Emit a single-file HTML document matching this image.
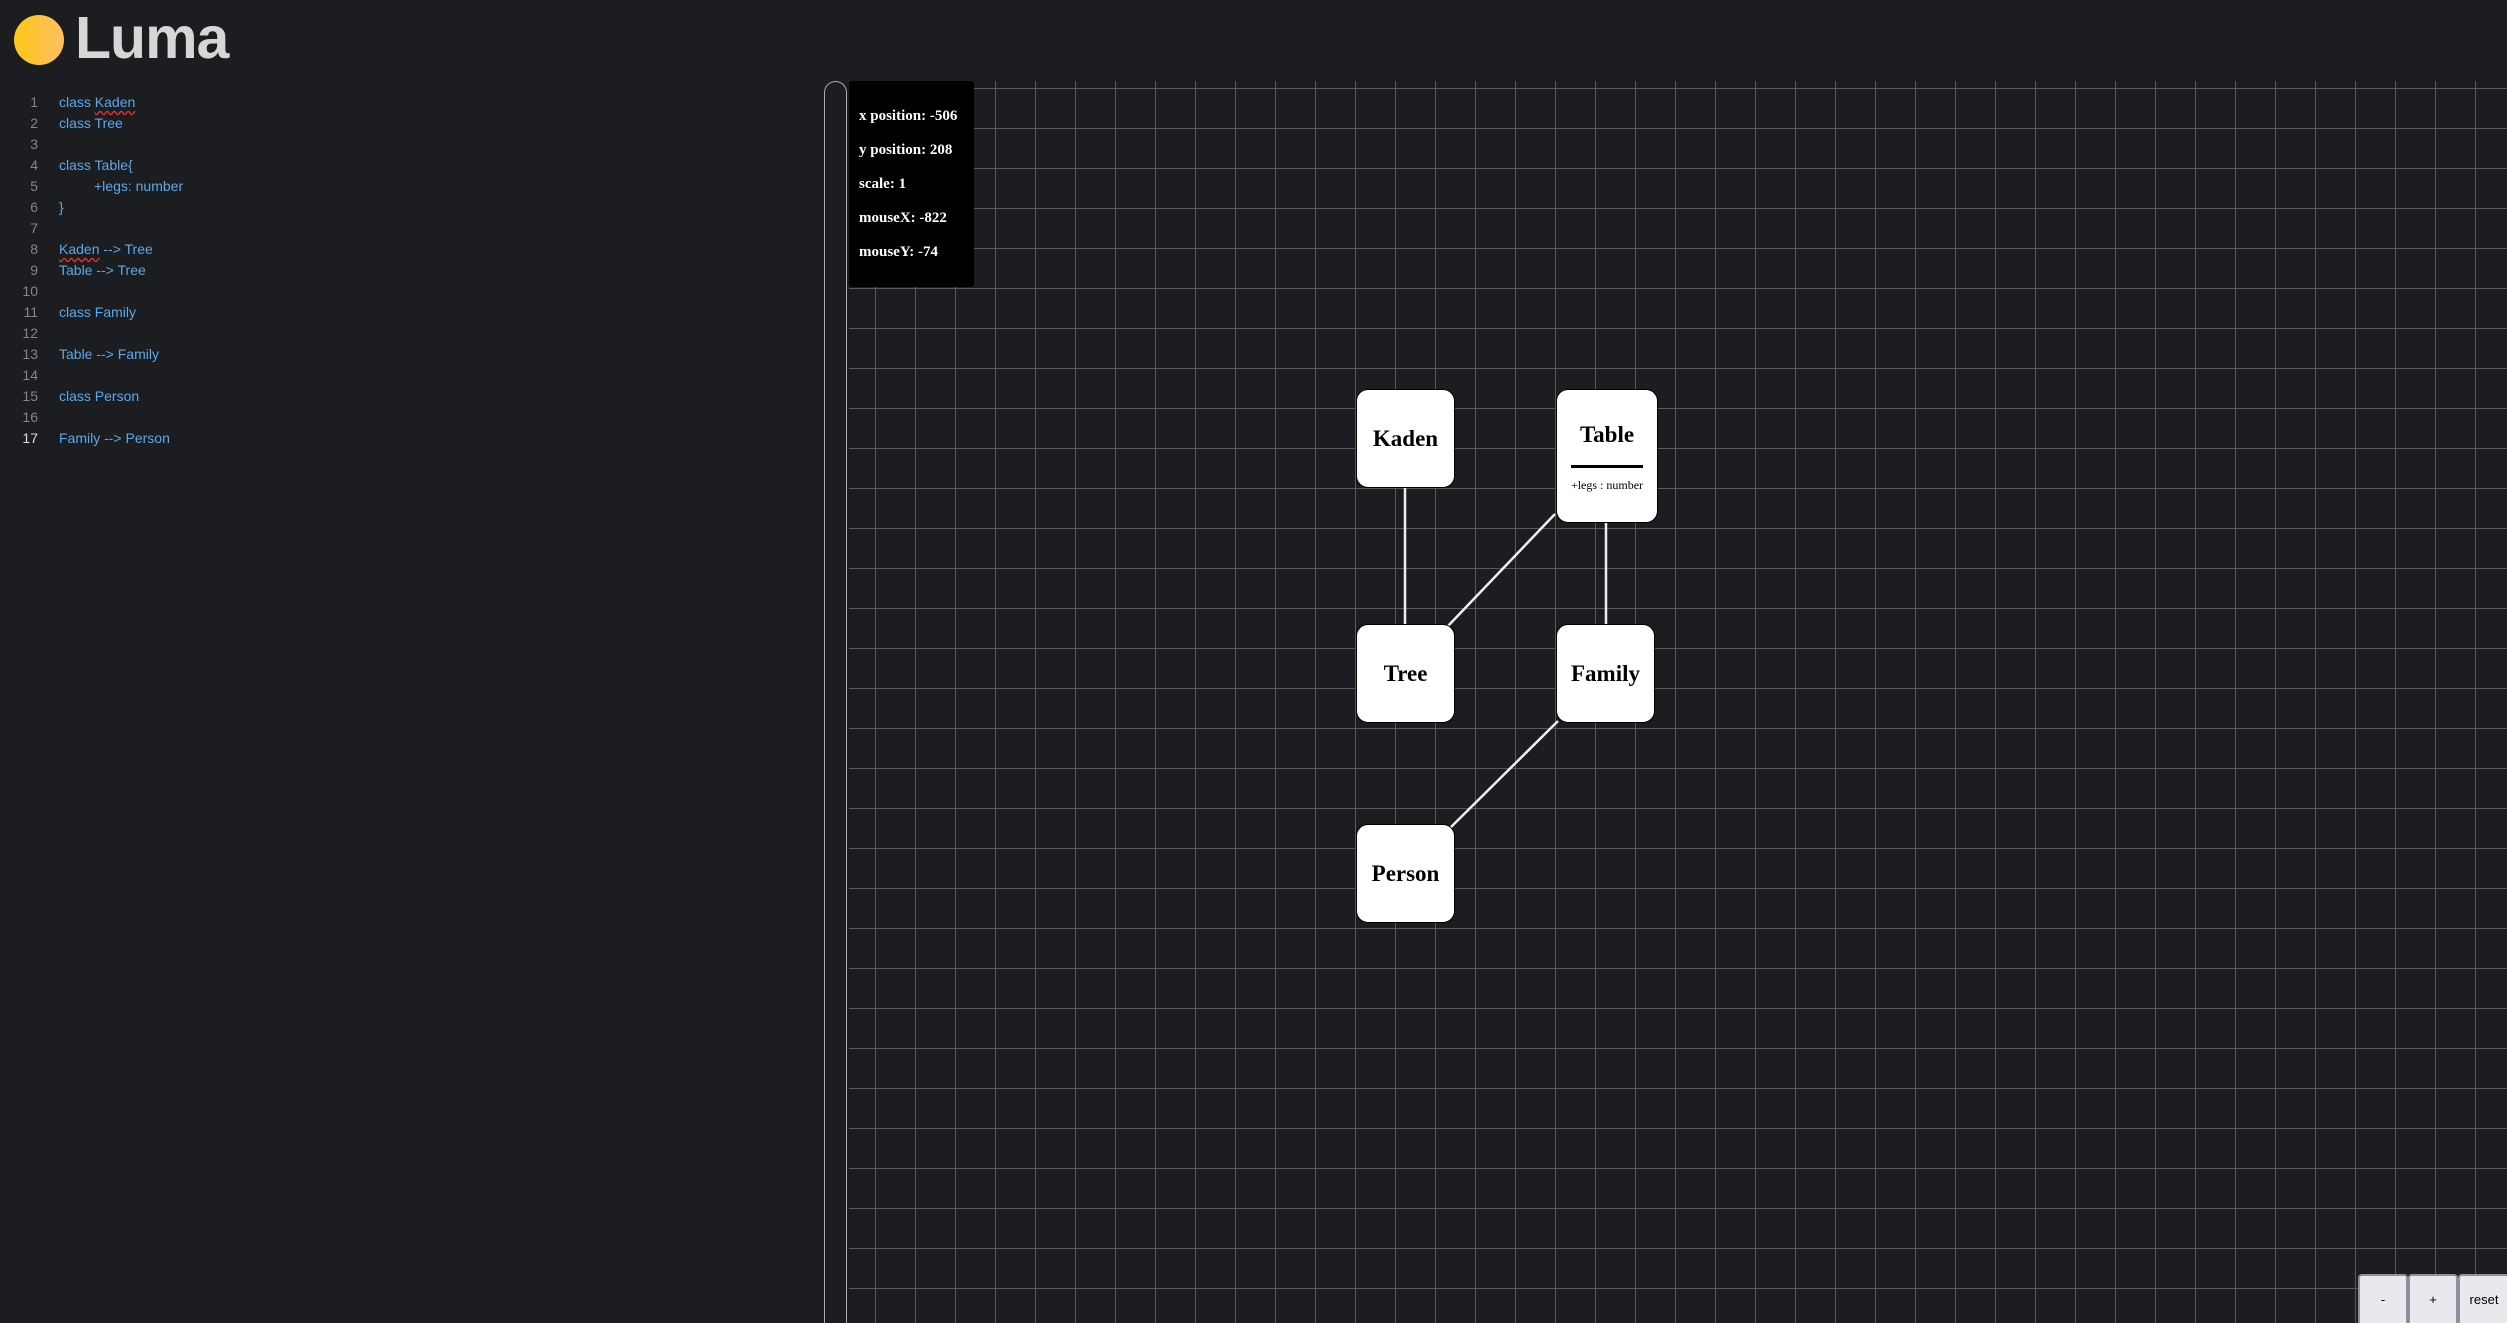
<!DOCTYPE html>
<html style="overflow:hidden"><head><meta charset="utf-8"><style>
body{margin:0;width:2507px;height:1323px;background:#1c1d21;position:relative;overflow:hidden;font-family:"Liberation Sans",sans-serif}
.logo{position:absolute;left:14px;top:15px;width:50px;height:50px;border-radius:50%;background:linear-gradient(90deg,#ffc61a,#ffc060)}
.title{position:absolute;left:75px;top:4px;font-size:59px;font-weight:bold;color:#d6d6d6;letter-spacing:-1px}
.code{position:absolute;left:0;top:92px;font-size:14px;line-height:21px;color:#5ba8ea}
.ln{position:absolute;width:38px;text-align:right;color:#858585}
.tx{position:absolute;left:59px;white-space:pre}
.sq{text-decoration:underline wavy #e03030;text-underline-offset:3px}
.strip{position:absolute;left:824px;top:81px;width:23px;height:1242px;border:1px solid #aaa;border-bottom:none;border-radius:12px 12px 0 0;box-sizing:border-box}
.grid{position:absolute;left:849px;top:81px;width:1658px;height:1242px;
background-image:linear-gradient(90deg,#5a5a5a 1px,transparent 1px),linear-gradient(#5a5a5a 1px,transparent 1px);
background-size:40px 40px;background-position:-14px 7px}
.info{position:absolute;left:849px;top:81px;width:125px;height:206px;background:#000;border-radius:3px;color:#fff;font-family:"Liberation Serif",serif;font-weight:bold;font-size:15px}
.info div{position:absolute;left:10px}
.node{position:absolute;background:#fff;border:1px solid #000;border-radius:12px;box-sizing:border-box;font-family:"Liberation Serif",serif;font-weight:bold;font-size:23px;display:flex;align-items:center;justify-content:center;color:#000}
.btn{position:absolute;top:1274px;width:50px;height:49px;background:#e9e9ed;border:2px solid #8f8f9d;border-bottom:none;box-sizing:border-box;border-radius:4px 4px 0 0;font-size:13px;display:flex;align-items:center;justify-content:center;color:#000}
</style></head><body>
<div class="logo"></div><div class="title">Luma</div>
<div class="code">
<div class="ln" style="top:0">1</div><div class="tx" style="top:0">class <span class="sq">Kaden</span></div>
<div class="ln" style="top:21px">2</div><div class="tx" style="top:21px">class Tree</div>
<div class="ln" style="top:42px">3</div>
<div class="ln" style="top:63px">4</div><div class="tx" style="top:63px">class Table{</div>
<div class="ln" style="top:84px">5</div><div class="tx" style="top:84px;left:94px">+legs: number</div>
<div class="ln" style="top:105px">6</div><div class="tx" style="top:105px">}</div>
<div class="ln" style="top:126px">7</div>
<div class="ln" style="top:147px">8</div><div class="tx" style="top:147px"><span class="sq">Kaden</span> --&gt; Tree</div>
<div class="ln" style="top:168px">9</div><div class="tx" style="top:168px">Table --&gt; Tree</div>
<div class="ln" style="top:189px">10</div>
<div class="ln" style="top:210px">11</div><div class="tx" style="top:210px">class Family</div>
<div class="ln" style="top:231px">12</div>
<div class="ln" style="top:252px">13</div><div class="tx" style="top:252px">Table --&gt; Family</div>
<div class="ln" style="top:273px">14</div>
<div class="ln" style="top:294px">15</div><div class="tx" style="top:294px">class Person</div>
<div class="ln" style="top:315px">16</div>
<div class="ln" style="top:336px;color:#ddd">17</div><div class="tx" style="top:336px">Family --&gt; Person</div>
</div>
<div class="strip"></div>
<div class="grid"></div>
<svg style="position:absolute;left:0;top:0" width="2507" height="1323">
<g stroke="#eee" stroke-width="2.5">
<line x1="1405" y1="488" x2="1405" y2="625"/>
<line x1="1555" y1="514" x2="1448" y2="626"/>
<line x1="1606" y1="523" x2="1606" y2="625"/>
<line x1="1558" y1="721" x2="1450" y2="828"/>
</g></svg>
<div class="info">
<div style="top:27px">x position: -506</div>
<div style="top:61px">y position: 208</div>
<div style="top:95px">scale: 1</div>
<div style="top:129px">mouseX: -822</div>
<div style="top:163px">mouseY: -74</div>
</div>
<div class="node" style="left:1356px;top:389px;width:99px;height:99px">Kaden</div>
<div class="node" style="left:1556px;top:389px;width:102px;height:134px;display:block">
<div style="position:absolute;top:32px;width:100%;text-align:center">Table</div>
<div style="position:absolute;left:14px;right:14px;top:75px;height:3px;background:#000"></div>
<div style="position:absolute;top:88px;width:100%;text-align:center;font-weight:normal;font-size:12px">+legs : number</div>
</div>
<div class="node" style="left:1356px;top:624px;width:99px;height:99px">Tree</div>
<div class="node" style="left:1556px;top:624px;width:99px;height:99px">Family</div>
<div class="node" style="left:1356px;top:824px;width:99px;height:99px">Person</div>
<div class="btn" style="left:2358px">-</div>
<div class="btn" style="left:2408px">+</div>
<div class="btn" style="left:2458px;width:52px">reset</div>
</body></html>
